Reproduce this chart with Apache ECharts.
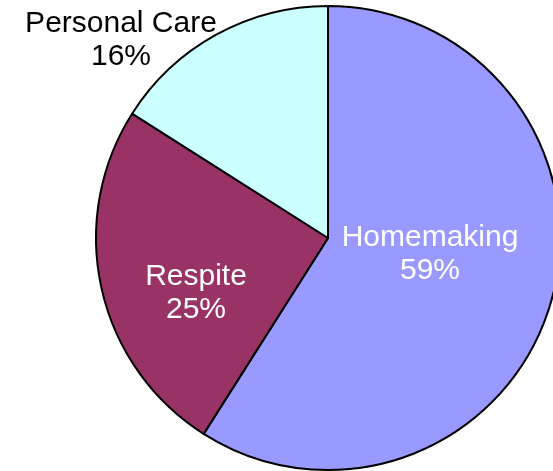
<!DOCTYPE html>
<html>
<head>
<meta charset="utf-8">
<script src="https://cdn.jsdelivr.net/npm/echarts@6/dist/echarts.min.js"></script>
<style>
html,body{margin:0;padding:0;background:#fff;}
#chart{width:553px;height:471px;}
</style>
</head>
<body>
<div id="chart"></div>
<script>
const categories = ['Homemaking', 'Respite', 'Personal Care'];
const values = [59, 25, 16];
const sliceColors = ['#9999FF', '#993366', '#CCFFFF'];
const labelColors = ['#ffffff', '#ffffff', '#000000'];
const labelSpots = [[430, 254], [196, 293], [121, 40]];

const chart = echarts.init(document.getElementById('chart'), null, {renderer: 'canvas'});
chart.setOption({
  animation: false,
  backgroundColor: '#ffffff',
  series: [{
    type: 'pie',
    center: [328, 238],
    radius: [0, 232],
    startAngle: 90,
    clockwise: true,
    avoidLabelOverlap: false,
    data: categories.map((c, i) => ({
      name: c,
      value: values[i],
      itemStyle: {color: sliceColors[i]},
      label: {color: labelColors[i]}
    })),
    itemStyle: {borderColor: '#000', borderWidth: 2},
    emphasis: {disabled: true},
    label: {
      show: true,
      position: 'inside',
      formatter: p => p.name + '\n' + Math.round(p.percent) + '%',
      fontFamily: '"Liberation Sans", Arial, sans-serif',
      fontSize: 30,
      lineHeight: 33,
      align: 'center'
    },
    labelLine: {show: false},
    labelLayout: function (params) {
      const s = labelSpots[params.dataIndex];
      return {x: s[0], y: s[1], align: 'center', verticalAlign: 'middle'};
    }
  }]
});
</script>
</body>
</html>
